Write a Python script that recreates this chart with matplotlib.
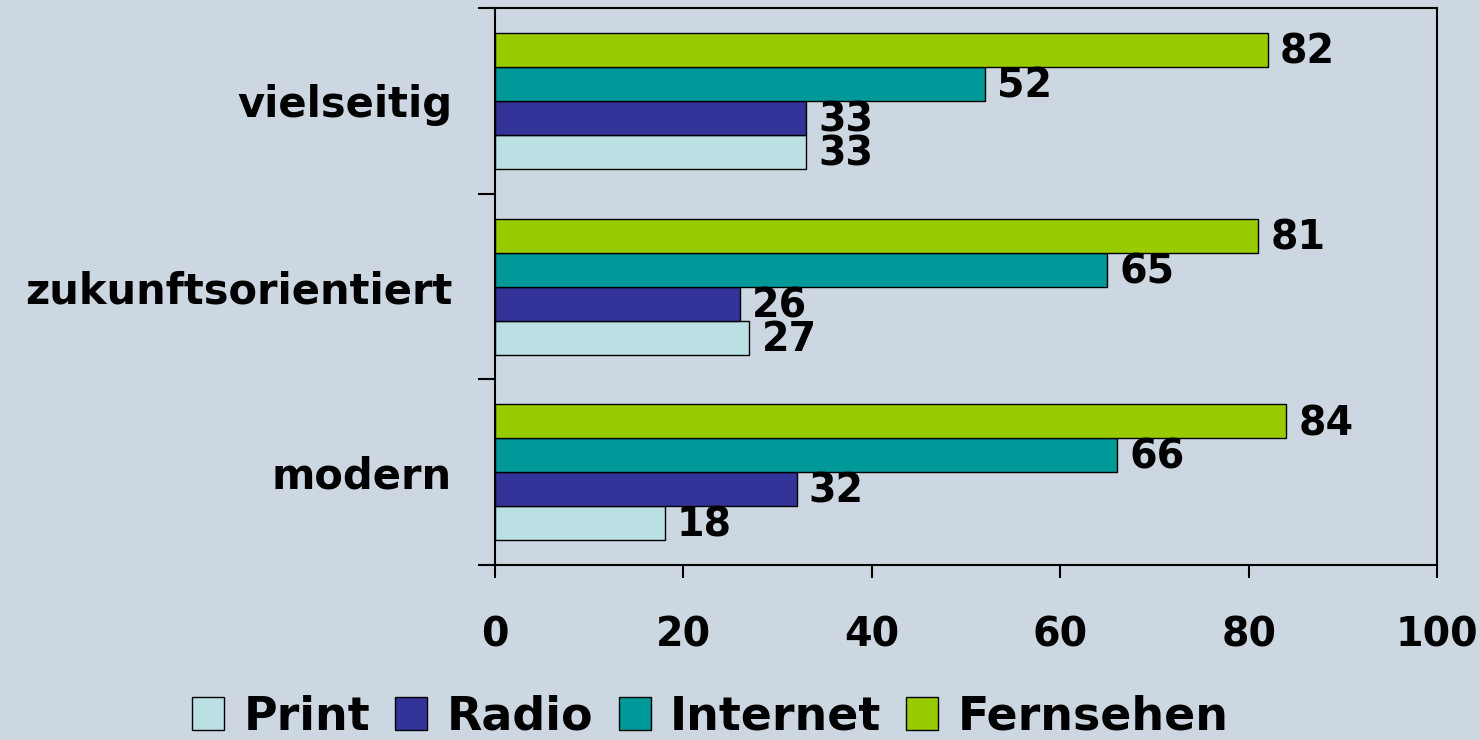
import matplotlib
matplotlib.use('Agg')
import matplotlib.pyplot as plt
import numpy as np

plt.rcParams['font.family'] = ['DejaVu Sans']
plt.rcParams['font.weight'] = 'bold'

categories = ['modern', 'zukunftsorientiert', 'vielseitig']
series = ['Print', 'Radio', 'Internet', 'Fernsehen']
values = {
    'Print':     [18, 27, 33],
    'Radio':     [32, 26, 33],
    'Internet':  [66, 65, 52],
    'Fernsehen': [84, 81, 82],
}
colors = ['#BBE0E3', '#333399', '#009999', '#99CC00']
xticks = [0, 20, 40, 60, 80, 100]

bg = '#CCD7E1'
fs = 28.5
fig = plt.figure(figsize=(14.8, 7.4), dpi=100, facecolor=bg)
ax = fig.add_axes([0.3345, 0.2365, 0.6365, 0.7525])
ax.set_facecolor(bg)

h = 0.183
y = np.arange(len(categories))
for i, name in enumerate(series):
    pos = y + (i - 1.5) * h
    ax.barh(pos, values[name], height=h, color=colors[i],
            edgecolor='black', linewidth=1.0, label=name, zorder=2)
    for yy, v in zip(pos, values[name]):
        ax.text(v + 1.3, yy - 0.015, str(v), ha='left', va='center',
                fontsize=fs, fontweight='bold', zorder=3)

ax.set_xlim(0, 100)
ax.set_ylim(-0.5, 2.5)
ax.set_xticks(xticks)
ax.set_xticklabels([str(t) for t in xticks], fontsize=fs, fontweight='bold')
ax.set_yticks(y)
ax.set_yticklabels(categories, fontsize=30, fontweight='bold')
ax.set_yticks([-0.5, 0.5, 1.5, 2.5], minor=True)
ax.tick_params(axis='y', which='major', length=0, pad=31)
ax.tick_params(axis='y', which='minor', length=12, width=1.5, direction='out')
ax.tick_params(axis='x', which='major', length=9.5, width=1.5, direction='out', pad=27)

for s in ax.spines.values():
    s.set_linewidth(1.5)
    s.set_color('black')

handles, labels = ax.get_legend_handles_labels()
leg = fig.legend(handles, labels, loc='center', bbox_to_anchor=(0.48, 0.031),
                 ncol=4, frameon=False, handlelength=0.7,
                 handleheight=0.7, handletextpad=0.42, columnspacing=0.55,
                 borderpad=0, prop={'weight': 'bold', 'size': 33})

fig.savefig('out.png', dpi=100, facecolor=bg)
